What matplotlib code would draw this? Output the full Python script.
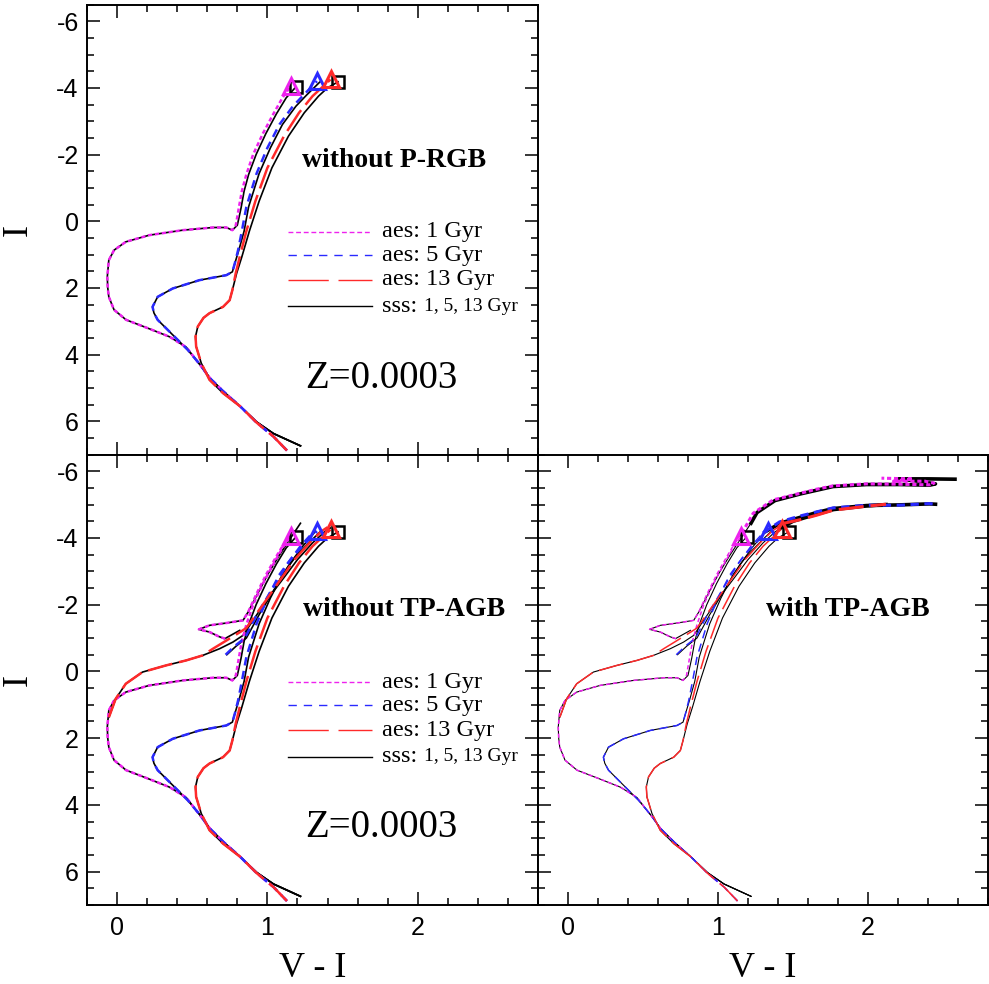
import matplotlib
matplotlib.use("Agg")
import matplotlib.pyplot as plt
from matplotlib.ticker import MultipleLocator

plt.rcParams['lines.scale_dashes'] = False
plt.rcParams['axes.unicode_minus'] = False
plt.rcParams['font.family'] = 'Liberation Sans'

SERIF = 'Liberation Serif'
MAG, BLU, RED = '#ee22ee', '#2a2aff', '#ff2a2a'

# ---- isochrones, MS bottom -> RGB tip (aes) ----
iso1_vi = [1.13, 1.04, 0.93, 0.82, 0.71, 0.62, 0.55, 0.46, 0.35, 0.21, 0.06, -0.02, -0.055, -0.062,
           -0.065, -0.055, -0.02, 0.058, 0.214, 0.437, 0.638, 0.727, 0.767, 0.79, 0.81, 0.83, 0.86, 0.905,
           0.97, 1.04, 1.10, 1.155]
iso1_I = [6.88, 6.46, 6.05, 5.56, 5.12, 4.72, 4.30, 3.78, 3.47, 3.22, 2.96, 2.66, 2.27, 2.00,
          1.67, 1.17, 0.87, 0.62, 0.42, 0.27, 0.19, 0.19, 0.27, 0.12, -0.40, -0.90, -1.40, -2.00,
          -2.63, -3.22, -3.70, -4.05]
iso5_vi = [1.13, 1.04, 0.93, 0.82, 0.71, 0.62, 0.548, 0.47, 0.37, 0.27, 0.245, 0.236, 0.27, 0.37,
           0.548, 0.727, 0.767, 0.783, 0.805, 0.83, 0.86, 0.928, 1.00, 1.08, 1.17, 1.24, 1.33]
iso5_I = [6.88, 6.46, 6.05, 5.56, 5.12, 4.72, 4.28, 3.86, 3.41, 2.96, 2.75, 2.57, 2.27, 2.02,
          1.77, 1.62, 1.52, 1.27, 0.87, 0.30, -0.43, -1.43, -2.20, -2.90, -3.45, -3.78, -4.20]
iso13_vi = [1.13, 1.04, 0.93, 0.82, 0.705, 0.615, 0.56, 0.526, 0.522, 0.537, 0.575, 0.615, 0.705, 0.749,
            0.767, 0.789, 0.816, 0.86, 0.92, 1.00, 1.11, 1.21, 1.30, 1.36, 1.42]
iso13_I = [6.88, 6.46, 6.05, 5.56, 5.16, 4.76, 4.26, 3.76, 3.46, 3.16, 2.90, 2.76, 2.57, 2.37,
           2.07, 1.57, 1.07, 0.30, -0.60, -1.60, -2.55, -3.25, -3.75, -4.00, -4.25]

# ---- same isochrones (sss) ----
sss1_vi = [1.22, 1.04, 0.93, 0.82, 0.71, 0.62, 0.55, 0.46, 0.35, 0.21, 0.06, -0.02, -0.055, -0.062,
           -0.065, -0.055, -0.02, 0.058, 0.214, 0.437, 0.638, 0.727, 0.767, 0.80, 0.825, 0.845, 0.875, 0.925,
           0.99, 1.06, 1.125, 1.19]
sss1_I = [6.74, 6.37, 6.03, 5.56, 5.12, 4.72, 4.30, 3.78, 3.47, 3.22, 2.96, 2.66, 2.27, 2.00,
          1.67, 1.17, 0.87, 0.62, 0.42, 0.27, 0.19, 0.19, 0.27, 0.12, -0.40, -0.90, -1.40, -2.00,
          -2.63, -3.22, -3.70, -4.03]
sss5_vi = [1.22, 1.04, 0.93, 0.82, 0.71, 0.62, 0.548, 0.47, 0.37, 0.27, 0.245, 0.236, 0.27, 0.37,
           0.548, 0.727, 0.767, 0.783, 0.81, 0.845, 0.875, 0.945, 1.02, 1.10, 1.19, 1.26, 1.35]
sss5_I = [6.74, 6.37, 6.03, 5.56, 5.12, 4.72, 4.28, 3.86, 3.41, 2.96, 2.75, 2.57, 2.27, 2.02,
          1.77, 1.62, 1.52, 1.27, 0.87, 0.30, -0.43, -1.43, -2.20, -2.90, -3.45, -3.78, -4.18]
sss13_vi = [1.22, 1.04, 0.93, 0.82, 0.705, 0.615, 0.56, 0.526, 0.522, 0.537, 0.575, 0.615, 0.705, 0.749,
            0.767, 0.795, 0.83, 0.88, 0.945, 1.03, 1.14, 1.245, 1.34, 1.40, 1.47]
sss13_I = [6.74, 6.37, 6.03, 5.56, 5.16, 4.76, 4.26, 3.76, 3.46, 3.16, 2.90, 2.76, 2.57, 2.37,
           2.07, 1.57, 1.07, 0.30, -0.60, -1.60, -2.55, -3.25, -3.75, -4.00, -4.18]

# ---- core He burning + early AGB ----
hb1_vi = [0.72, 0.68, 0.615, 0.544, 0.615, 0.727, 0.838, 0.872, 0.928, 0.995, 1.06, 1.12, 1.16]
hb1_I = [-0.98, -1.04, -1.18, -1.26, -1.38, -1.45, -1.53, -1.78, -2.33, -2.93, -3.45, -3.90, -4.15]
hbs1_vi = [0.816, 0.716, 0.68, 0.615, 0.544, 0.615, 0.727, 0.838, 0.872, 0.935, 1.005, 1.075, 1.14, 1.22]
hbs1_I = [-1.23, -0.98, -1.04, -1.18, -1.26, -1.38, -1.45, -1.53, -1.78, -2.33, -2.93, -3.45, -3.90, -4.44]
hb5_vi = [0.722, 0.78, 0.85, 0.93, 1.04, 1.13, 1.22, 1.30]
hb5_I = [-0.50, -0.75, -1.00, -1.70, -2.53, -3.20, -3.75, -4.15]
hbs5_vi = [0.73, 0.79, 0.86, 0.945, 1.055, 1.145, 1.235, 1.32]
hbs5_I = [-0.50, -0.75, -1.00, -1.70, -2.53, -3.20, -3.75, -4.20]
hb13_vi = [-0.054, -0.009, 0.058, 0.169, 0.326, 0.46, 0.57, 0.638, 0.794, 0.86, 0.97, 1.084, 1.18, 1.28, 1.36, 1.40]
hb13_I = [1.37, 0.82, 0.37, 0.02, -0.18, -0.33, -0.48, -0.68, -1.11, -1.30, -2.00, -2.73, -3.35, -3.85, -4.20, -4.32]
hbs13_vi = [-0.054, -0.009, 0.058, 0.169, 0.326, 0.46, 0.57, 0.682, 0.771, 0.838, 0.90, 0.99, 1.10, 1.20, 1.30, 1.38, 1.42]
hbs13_I = [1.37, 0.82, 0.37, 0.02, -0.18, -0.33, -0.48, -0.68, -0.88, -1.08, -1.50, -2.10, -2.75, -3.35, -3.85, -4.18, -4.30]

# ---- TP-AGB ----
tp1_vi = [1.16, 1.235, 1.368, 1.55, 1.657, 1.767, 1.99, 2.21, 2.41, 2.44, 2.38, 2.17, 2.30, 2.09]
tp1_I = [-4.15, -4.74, -5.14, -5.34, -5.46, -5.56, -5.62, -5.61, -5.59, -5.64, -5.70, -5.70, -5.77, -5.79]
tps1_vi = [1.22, 1.26, 1.38, 1.55, 1.767, 1.99, 2.21, 2.41, 2.45, 2.30, 2.19, 2.40, 2.58]
tps1_I = [-4.44, -4.76, -5.12, -5.32, -5.54, -5.60, -5.60, -5.58, -5.62, -5.72, -5.77, -5.77, -5.76]
tp5_vi = [1.30, 1.41, 1.55, 1.657, 1.767, 1.99, 2.21, 2.41, 2.44]
tp5_I = [-4.15, -4.48, -4.66, -4.78, -4.90, -4.98, -4.98, -5.03, -5.01]
tps5_vi = [1.32, 1.42, 1.55, 1.657, 1.767, 1.99, 2.21, 2.41, 2.45]
tps5_I = [-4.20, -4.45, -4.62, -4.76, -4.88, -4.97, -4.99, -5.02, -5.01]
tp13_vi = [1.40, 1.43, 1.55, 1.657, 1.767, 1.99, 2.12]
tp13_I = [-4.32, -4.43, -4.55, -4.68, -4.83, -4.95, -5.01]
tps13_vi = [1.42, 1.50, 1.65, 1.77, 1.99, 2.12]
tps13_I = [-4.30, -4.50, -4.70, -4.85, -4.96, -5.00]

# RGB tips
tri_vi = [1.155, 1.33, 1.425]
tri_I = [-4.07, -4.22, -4.27]
sq_vi = [1.19, 1.47]
sq_I = [-4.04, -4.19]

ages = [
    (iso1_vi, iso1_I, sss1_vi, sss1_I, hb1_vi, hb1_I, hbs1_vi, hbs1_I, tp1_vi, tp1_I, tps1_vi, tps1_I, MAG, (3, 2)),
    (iso5_vi, iso5_I, sss5_vi, sss5_I, hb5_vi, hb5_I, hbs5_vi, hbs5_I, tp5_vi, tp5_I, tps5_vi, tps5_I, BLU, (6, 4)),
    (iso13_vi, iso13_I, sss13_vi, sss13_I, hb13_vi, hb13_I, hbs13_vi, hbs13_I, tp13_vi, tp13_I, tps13_vi, tps13_I, RED, (18, 5)),
]

fig = plt.figure(figsize=(9.89, 9.84), dpi=100)
L, M, R = 87 / 989, 538 / 989, 988 / 989
T, C, B = 1 - 4.5 / 984, 1 - 454.5 / 984, 1 - 905 / 984
ax_t = fig.add_axes([L, C, M - L, T - C])
ax_bl = fig.add_axes([L, B, M - L, C - B])
ax_br = fig.add_axes([M, B, R - M, C - B])


def style(ax, xlab, ylab):
    ax.set_xlim(-0.2, 2.8)
    ax.set_ylim(7, -6.5)
    ax.xaxis.set_major_locator(MultipleLocator(1))
    ax.xaxis.set_minor_locator(MultipleLocator(0.2))
    ax.yaxis.set_major_locator(MultipleLocator(2))
    ax.yaxis.set_minor_locator(MultipleLocator(0.5))
    ax.tick_params(which='both', direction='in', top=True, right=True, width=1.1)
    ax.tick_params(which='major', length=9.5, labelsize=18)
    ax.tick_params(which='minor', length=5)
    ax.tick_params(axis='y', pad=6)
    ax.tick_params(axis='x', pad=8)
    for s in ax.spines.values():
        s.set_linewidth(1.4)
    if xlab:
        ax.set_xlabel('V - I', family=SERIF, fontsize=26)
        ax.xaxis.set_label_coords(0.5, -0.105)
    else:
        ax.tick_params(labelbottom=False)
    if ylab:
        ax.set_ylabel('I', family=SERIF, fontsize=26)
        ax.yaxis.set_label_coords(-0.115, 0.5)
    else:
        ax.tick_params(labelleft=False)


def tips(ax):
    ax.plot(sq_vi, sq_I, 's', ms=8, mfc='none', mec='k', mew=1.8, zorder=5)
    for v, i, c in zip(tri_vi, tri_I, [MAG, BLU, RED]):
        ax.plot(v, i, '^', ms=12, mfc='none', mec=c, mew=2.2, zorder=6)


def legend(ax):
    ys = [0.495, 0.443, 0.388, 0.329]
    keys = [(MAG, (3.5, 2), 'aes: 1 Gyr'), (BLU, (6, 5), 'aes: 5 Gyr'), (RED, (29, 7), 'aes: 13 Gyr')]
    for y, (c, d, lab) in zip(ys, keys):
        ax.plot([0.446, 0.632], [y, y], transform=ax.transAxes, color=c, lw=1, dashes=d)
        ax.text(0.654, y, lab, transform=ax.transAxes, va='center', family=SERIF, fontsize=17.5)
    ax.plot([0.446, 0.632], [ys[3], ys[3]], transform=ax.transAxes, color='k', lw=1)
    ax.text(0.654, ys[3], 'sss:', transform=ax.transAxes, va='center', family=SERIF, fontsize=17.5)
    ax.text(0.748, ys[3], '1, 5, 13 Gyr', transform=ax.transAxes, va='center', family=SERIF, fontsize=14)


# top-left: up to RGB tip
for a in ages:
    ax_t.plot(a[2], a[3], color='k', lw=1.2, zorder=2)
    ax_t.plot(a[0], a[1], color=a[12], lw=1.8, dashes=a[13], zorder=3)
tips(ax_t)
legend(ax_t)
ax_t.text(0.68, 0.654, 'without P-RGB', transform=ax_t.transAxes, ha='center', va='center',
          family=SERIF, fontsize=20, fontweight='bold')
ax_t.text(0.652, 0.17, 'Z=0.0003', transform=ax_t.transAxes, ha='center', va='center',
          family=SERIF, fontsize=28)
style(ax_t, False, True)

# bottom-left: with HB and early AGB
for a in ages:
    ax_bl.plot(a[2], a[3], color='k', lw=1.2, zorder=2)
    ax_bl.plot(a[6], a[7], color='k', lw=1.2, zorder=2)
    ax_bl.plot(a[0], a[1], color=a[12], lw=1.8, dashes=a[13], zorder=3)
    ax_bl.plot(a[4], a[5], color=a[12], lw=1.8, dashes=a[13], zorder=3)
tips(ax_bl)
legend(ax_bl)
ax_bl.text(0.703, 0.656, 'without TP-AGB', transform=ax_bl.transAxes, ha='center', va='center',
           family=SERIF, fontsize=20, fontweight='bold')
ax_bl.text(0.652, 0.173, 'Z=0.0003', transform=ax_bl.transAxes, ha='center', va='center',
           family=SERIF, fontsize=28)
style(ax_bl, True, True)

# bottom-right: with TP-AGB
for a in ages:
    ax_br.plot(a[2], a[3], color='k', lw=0.8, zorder=2)
    ax_br.plot(a[6], a[7], color='k', lw=0.8, zorder=2)
    ax_br.plot(a[10], a[11], color='k', lw=2.6, zorder=2)
    ax_br.plot(a[0], a[1], color=a[12], lw=1.1, dashes=a[13], zorder=3)
    ax_br.plot(a[4], a[5], color=a[12], lw=1.1, dashes=a[13], zorder=3)
    ax_br.plot(a[8], a[9], color=a[12], lw=2.2, dashes=a[13], zorder=3)
tips(ax_br)
ax_br.text(0.689, 0.656, 'with TP-AGB', transform=ax_br.transAxes, ha='center', va='center',
           family=SERIF, fontsize=20, fontweight='bold')
style(ax_br, True, False)

fig.savefig('out.png', dpi=100)
